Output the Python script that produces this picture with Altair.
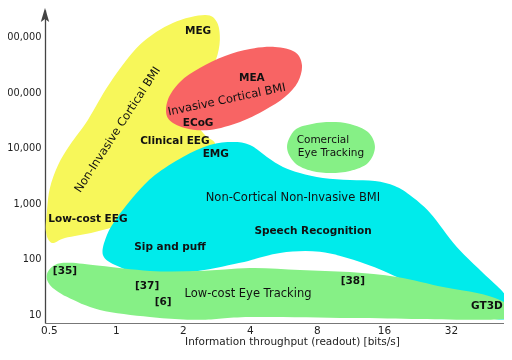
import altair as alt
import pandas as pd

# ---- axis data ----
X_DOMAIN = [0.48, 55.4]
Y_DOMAIN = [7.0, 3.06e6]
x_ticks = [0.5, 1, 2, 4, 8, 16, 32]
y_ticks = [10, 100, 1000, 10000, 100000, 1000000]

# ---- region outlines (bits/s, value) ----
yellow_x = [2.51, 2.84, 2.93, 2.81, 2.51, 2.26, 2.26, 2.51, 2.79, 2.38, 1.75, 1.28, 1.10,
            0.805, 0.59, 0.516, 0.485, 0.49, 0.505, 0.549, 0.621, 0.748, 0.94, 1.28, 1.80]
yellow_y = [2.49e6, 1.86e6, 8.8e5, 3.85e5, 1.68e5, 7.3e4, 3.2e4, 1.71e4, 1.13e4, 4.9e3, 2.15e3,
            940, 464, 306, 239, 194, 306, 764, 1.9e3, 4.9e3, 1.13e4, 3.2e4, 1.48e5, 7.2e5, 1.79e6]

red_x = [1.71, 1.94, 2.38, 3.09, 4.0, 5.18, 6.37, 6.85, 6.57, 5.74, 4.67, 3.61, 2.64, 2.04, 1.71]
red_y = [7.3e4, 1.55e5, 2.76e5, 4.55e5, 6.08e5, 6.6e5, 5.37e5, 3.13e5, 1.55e5, 8.3e4, 4.84e4,
         2.94e4, 2.11e4, 2.29e4, 3.47e4]

cyan_x = [0.874, 0.911, 1.01, 1.217, 1.497, 2.0, 2.64, 3.35, 4.0, 4.77, 5.63, 6.71, 8.51, 11.26,
          14.58, 17.9, 20.9, 25.8, 34.0, 44.6, 54.8, 60.1, 58.9, 50.4, 39.0, 30.1, 23.2, 18.3,
          12.5, 8.25, 5.46, 3.61, 2.15, 1.28, 1.01]
cyan_y = [118, 271, 548, 1420, 3260, 6900, 11300, 12800, 11300, 6900, 4550, 3550, 2880, 2650,
          2540, 2070, 1420, 675, 164, 56, 25.4, 13.1, 8.65, 8.3, 10.6, 16.1, 28.8, 47.4,
          88, 134, 128, 85, 58, 58, 75]

eye_x = [5.87, 6.37, 7.6, 9.25, 11.26, 13.56, 14.58, 13.56, 11.26, 9.25, 7.6, 6.37]
eye_y = [1.04e4, 2.11e4, 2.71e4, 2.94e4, 2.71e4, 1.94e4, 1.04e4, 5.37e3, 3.85e3, 3.55e3,
         3.85e3, 5.37e3]

low_x = [0.49, 0.532, 0.621, 0.847, 1.42, 2.38, 4.0, 6.71, 11.26, 18.3, 29.5, 41.9, 53.1, 62,
         58.9, 43.2, 23.2, 11.26, 4.0, 2.38, 1.42, 0.847, 0.602, 0.505]
low_y = [53.7, 78, 85, 75, 60.8, 60.8, 68.9, 63.4, 58, 47.4, 31.3, 24.4, 18.2, 12,
         8.65, 8.0, 8.3, 8.65, 9.0, 8.0, 9.0, 12, 20.7, 34]

# ---- labels ----
bold_text = ["MEG", "MEA", "ECoG", "Clinical EEG", "EMG", "Low-cost EEG", "Sip and puff",
             "Speech Recognition", "[35]", "[37]", "[6]", "[38]", "GT3D"]
bold_x = [2.34, 4.08, 2.34, 1.84, 2.81, 0.748, 1.75, 7.68, 0.59, 1.38, 1.63, 11.6, 46.4]
bold_y = [1.28e6, 1.82e5, 2.82e4, 1.34e4, 7.8e3, 526, 164, 320, 60.8, 32.6, 16.8, 40, 14.2]

norm_text = ["Non-Invasive Cortical BMI", "Invasive Cortical BMI", "Comercial", "Eye Tracking",
             "Non-Cortical Non-Invasive BMI", "Low-cost Eye Tracking"]
norm_x = [1.02, 3.15, 8.51, 9.25, 6.24, 3.92]
norm_y = [2.11e4, 7.3e4, 1.39e4, 8.1e3, 1.26e3, 23.4]
norm_angle = [303, 348, 0, 0, 0, 0]
norm_size = [11.5, 11.5, 10.5, 10.5, 11.5, 11.5]

rows = []
for name, xs, ys in [("yellow", yellow_x, yellow_y), ("red", red_x, red_y),
                     ("cyan", cyan_x, cyan_y), ("eye", eye_x, eye_y), ("low", low_x, low_y)]:
    for i, (a, b) in enumerate(zip(xs, ys)):
        rows.append({"shape": name, "i": i, "x": a, "y": b})
blobs = pd.DataFrame(rows)

bold_df = pd.DataFrame({"text": bold_text, "x": bold_x, "y": bold_y})
norm_df = pd.DataFrame({"text": norm_text, "x": norm_x, "y": norm_y,
                        "angle": norm_angle, "size": norm_size})
arrow_df = pd.DataFrame({"x": [X_DOMAIN[0]], "y": [Y_DOMAIN[1]]})

FONT = "DejaVu Sans"
xscale = alt.Scale(type="log", base=2, domain=X_DOMAIN, nice=False)
yscale = alt.Scale(type="log", domain=Y_DOMAIN, nice=False)

xaxis = alt.Axis(values=x_ticks, format="~g", title="Information throughput (readout)  [bits/s]",
                 grid=False, ticks=False, tickSize=0, domainColor="#777", domainWidth=1.2,
                 labelFont=FONT, labelFontSize=10.5, labelColor="#222", labelPadding=2,
                 labelFlush=False, labelOverlap=False,
                 titleFont=FONT, titleFontSize=10.5, titleFontWeight="normal", titleColor="#222",
                 titleX=247, titleY=18.5, titleAlign="center", titleBaseline="middle")
yaxis = alt.Axis(values=y_ticks, format=",", title=None, grid=False, ticks=False, tickSize=0,
                 domainColor="#444", domainWidth=1.3, labelFont=FONT, labelFontSize=9.8,
                 labelColor="#222", labelPadding=4, labelFlush=False, labelOverlap=False)

X = alt.X("x:Q", scale=xscale, axis=xaxis)
Y = alt.Y("y:Q", scale=yscale, axis=yaxis)


def blob(name, color, **extra):
    return (alt.Chart(blobs)
            .transform_filter(alt.datum.shape == name)
            .mark_line(fill=color, stroke=color, strokeWidth=0, interpolate="cardinal-closed",
                       clip=True, **extra)
            .encode(x=X, y=Y, order="i:Q"))


layers = [
    blob("yellow", "#f7f75a"),
    blob("red", "#f86464"),
    blob("cyan", "#00ebeb"),
    blob("eye", "#86f086"),
    blob("low", "#86f086", blend="multiply"),
    alt.Chart(arrow_df).mark_point(
        shape="M0,-0.3L0.6,1.7L0,1.3L-0.6,1.7Z", size=196, filled=True, color="#444",
        opacity=1).encode(x=X, y=Y),
    alt.Chart(bold_df).mark_text(font=FONT, fontWeight="bold", fontSize=10.5, color="#111",
                                 align="center", baseline="middle")
    .encode(x=X, y=Y, text="text:N"),
    alt.Chart(norm_df).mark_text(font=FONT, color="#111", align="center", baseline="middle")
    .encode(x=X, y=Y, text="text:N", angle=alt.Angle("angle:Q", scale=None),
            size=alt.Size("size:Q", scale=None)),
]

chart = (alt.layer(*layers)
         .properties(width=459, height=313, autosize=alt.AutoSizeParams(type="none"),
                     padding={"left": 37, "top": 2, "right": 0, "bottom": 25})
         .configure_view(strokeOpacity=0))

chart.save("out.html", embed_options={"renderer": "svg", "actions": False})
